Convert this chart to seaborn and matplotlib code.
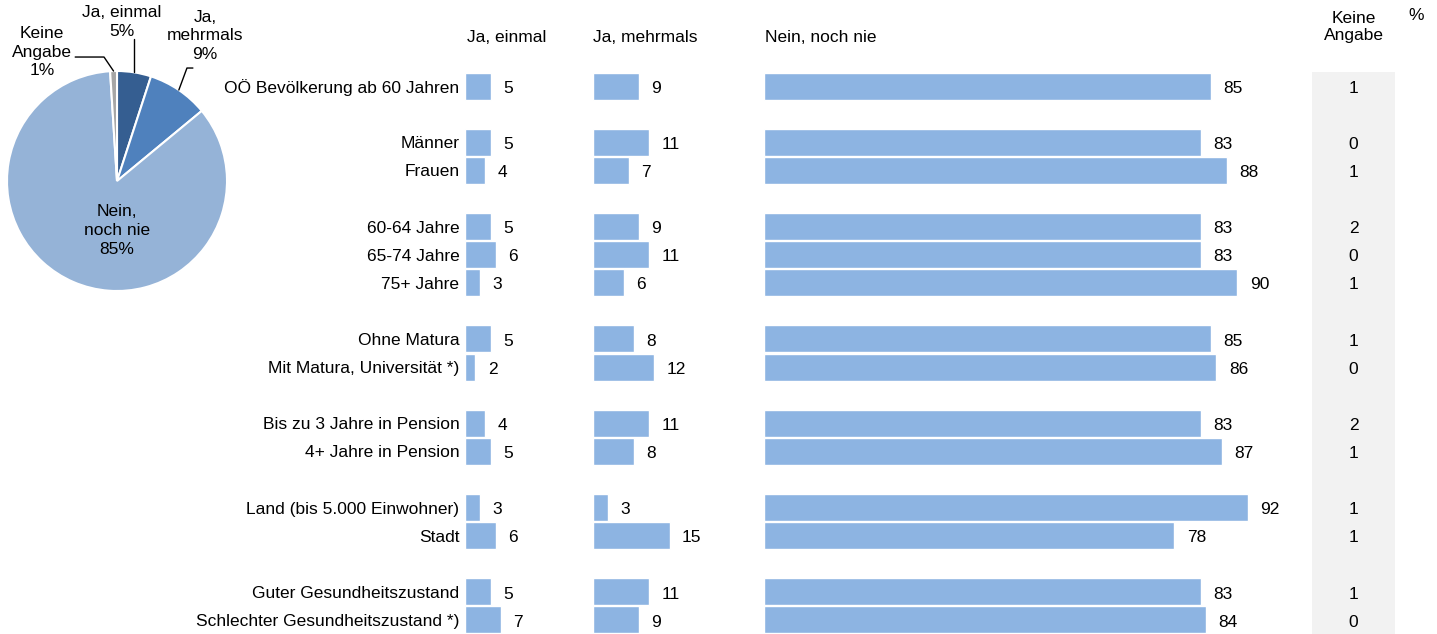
import numpy as np
import pandas as pd
import matplotlib
matplotlib.use("Agg")
import matplotlib.pyplot as plt
import seaborn as sns

# ---- data ----
pie_labels = ["Ja, einmal", "Ja, mehrmals", "Nein, noch nie", "Keine Angabe"]
pie_values = [5, 9, 85, 1]

groups = [
    ["OÖ Bevölkerung ab 60 Jahren"],
    ["Männer", "Frauen"],
    ["60-64 Jahre", "65-74 Jahre", "75+ Jahre"],
    ["Ohne Matura", "Mit Matura, Universität *)"],
    ["Bis zu 3 Jahre in Pension", "4+ Jahre in Pension"],
    ["Land (bis 5.000 Einwohner)", "Stadt"],
    ["Guter Gesundheitszustand", "Schlechter Gesundheitszustand *)"],
]
ja_einmal = [5, 5, 4, 5, 6, 3, 5, 2, 4, 5, 3, 6, 5, 7]
ja_mehrmals = [9, 11, 7, 9, 11, 6, 8, 12, 11, 8, 3, 15, 11, 9]
nein_nie = [85, 83, 88, 83, 83, 90, 85, 86, 83, 87, 92, 78, 83, 84]
keine_angabe = [1, 0, 1, 2, 0, 1, 1, 0, 2, 1, 1, 1, 1, 0]

# ---- style ----
sns.set_theme(style="white")
plt.rcParams["font.family"] = ["Liberation Sans", "DejaVu Sans"]
plt.rcParams["text.color"] = "black"
plt.rcParams["ytick.color"] = "black"
plt.rcParams["ytick.labelcolor"] = "black"
FS = 12.5
BAR = "#8DB4E2"
PIE_COLORS = ["#355E91", "#4F81BD", "#95B3D7", "#A6A6A6"]

W, H = 1437, 634
fig = plt.figure(figsize=(W / 100, H / 100), dpi=100)
fig.patch.set_facecolor("white")


def px_axes(x0, y0, x1, y1):
    """Axes from pixel box (top-left origin)."""
    return fig.add_axes([x0 / W, 1 - y1 / H, (x1 - x0) / W, (y1 - y0) / H])


# category order with blank spacer rows between groups
order = []
for gi, g in enumerate(groups):
    if gi > 0:
        order.append(" " * gi)
    order.extend(g)
cats = [c for g in groups for c in g]
df = pd.DataFrame({"Gruppe": cats, "einmal": ja_einmal, "mehrmals": ja_mehrmals,
                   "nein": nein_nie, "keine": keine_angabe})

top, bottom = 72, 634
panels = [
    ("einmal", 465, 585, 5.1),
    ("mehrmals", 593, 755, 5.1),
    ("nein", 764, 1300, 5.26),
]
for col, x0, x1, scale in panels:
    ax = px_axes(x0, top, x1, bottom)
    sns.barplot(data=df, x=col, y="Gruppe", order=order, color=BAR,
                width=0.96, orient="h", ax=ax, saturation=1, errorbar=None)
    ax.set_xlim(0, (x1 - x0) / scale)
    ax.set_ylim(len(order) - 0.5, -0.5)
    labels = ax.bar_label(ax.containers[0], fmt="%d", padding=9, fontsize=FS,
                          color="black")
    for t in labels:
        t.xyann = (t.xyann[0], t.xyann[1] - 1.6)
    ax.set_xlabel("")
    ax.set_ylabel("")
    ax.set_xticks([])
    for s in ax.spines.values():
        s.set_visible(False)
    ax.tick_params(axis="y", length=0, pad=4, labelsize=FS, labelcolor="black")
    if col != "einmal":
        ax.set_yticklabels([])

# "Keine Angabe" column on grey background
axk = px_axes(1312, top, 1395, bottom)
axk.set_facecolor("#F2F2F2")
axk.set_xlim(0, 1)
axk.set_ylim(len(order) - 0.5, -0.5)
axk.set_xticks([])
axk.set_yticks([])
for s in axk.spines.values():
    s.set_visible(False)
for c, v in zip(cats, keine_angabe):
    axk.text(0.5, order.index(c) + 0.08, f"{v}", ha="center", va="center", fontsize=FS)

# column headers
fig.text(467 / W, 1 - 38 / H, "Ja, einmal", ha="left", va="center", fontsize=FS)
fig.text(593 / W, 1 - 38 / H, "Ja, mehrmals", ha="left", va="center", fontsize=FS)
fig.text(765 / W, 1 - 38 / H, "Nein, noch nie", ha="left", va="center", fontsize=FS)
fig.text(1354 / W, 1 - 27 / H, "Keine\nAngabe", ha="center", va="center", fontsize=FS,
         linespacing=1.15)
fig.text(1416 / W, 1 - 16 / H, "%", ha="center", va="center", fontsize=FS)

# ---- pie ----
axp = px_axes(7, 71, 227, 291)
wedges, _ = axp.pie(pie_values, colors=PIE_COLORS, startangle=90, counterclock=False,
                    wedgeprops=dict(edgecolor="white", linewidth=1.5))
axp.set_xlim(-1, 1)
axp.set_ylim(-1, 1)
axp.set_aspect("equal")


def mid_point(w):
    a = np.deg2rad((w.theta1 + w.theta2) / 2)
    return np.cos(a), np.sin(a)


lw = 1.0
LS = 1.3
# Ja, einmal
mx, my = mid_point(wedges[0])
axp.plot([mx, mx], [my, 1.29], color="black", lw=lw, clip_on=False)
axp.text(0.045, 1.445, "Ja, einmal\n5%", ha="center", va="center", fontsize=FS,
         linespacing=LS)
# Ja, mehrmals
mx, my = mid_point(wedges[1])
axp.plot([mx, 0.636, 0.69], [my, 1.027, 1.027], color="black", lw=lw, clip_on=False)
axp.text(0.8, 1.32, "Ja,\nmehrmals\n9%", ha="center", va="center", fontsize=FS,
         linespacing=LS)
# Keine Angabe
mx, my = mid_point(wedges[3])
axp.plot([mx, -0.118, -0.38], [my, 1.127, 1.127], color="black", lw=lw, clip_on=False)
axp.text(-0.68, 1.17, "Keine\nAngabe\n1%", ha="center", va="center", fontsize=FS,
         linespacing=LS)
# Nein, noch nie
axp.text(0, -0.45, "Nein,\nnoch nie\n85%", ha="center", va="center", fontsize=FS,
         linespacing=LS)

fig.savefig("out.png", dpi=100)
